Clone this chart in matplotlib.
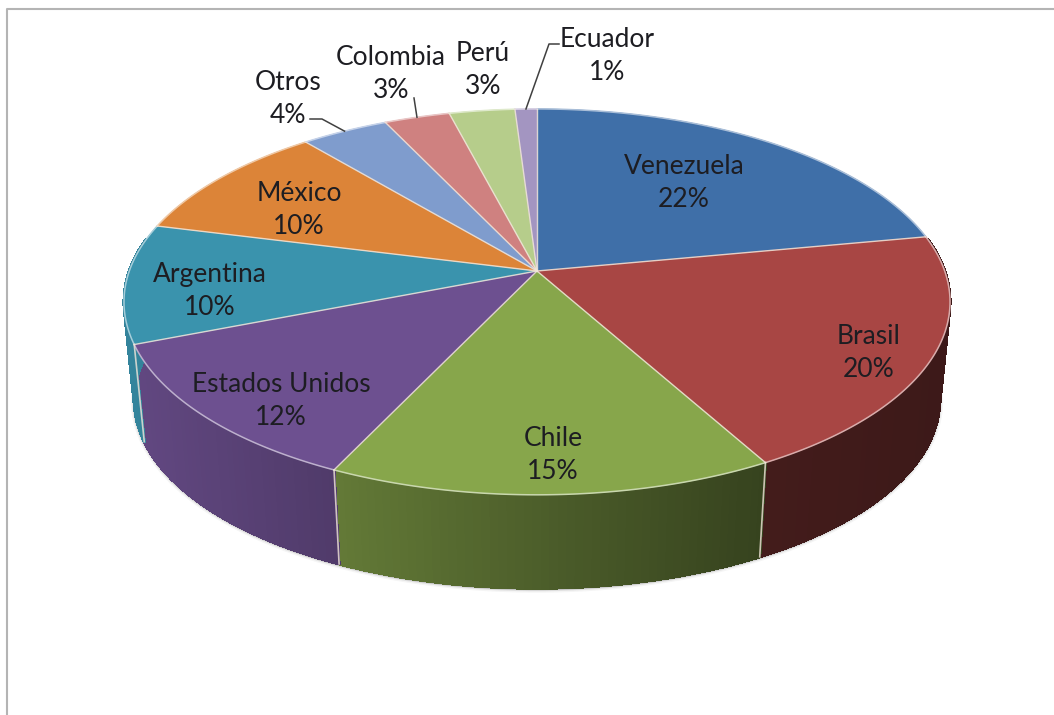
#!/usr/bin/env python3
"""Draw the country share pie as an extruded disc seen in perspective."""

import numpy as np
import matplotlib

matplotlib.use("Agg")
import matplotlib.pyplot as plt
from matplotlib.collections import PolyCollection
from matplotlib.patches import Polygon

countries = [
    "Venezuela",
    "Brasil",
    "Chile",
    "Estados Unidos",
    "Argentina",
    "México",
    "Otros",
    "Colombia",
    "Perú",
    "Ecuador",
]
shares = [22, 20, 15, 12, 10, 10, 4, 3, 3, 1]

colors = [
    "#3f6fa8",
    "#a84644",
    "#87a64b",
    "#6d5090",
    "#3a93ad",
    "#dc8438",
    "#7f9ccd",
    "#cf8180",
    "#b6cd8b",
    "#a395c1",
]

# label centres in pixels
label_pos = [
    (684, 183),
    (869, 353),
    (553, 455),
    (281, 401),
    (210, 291),
    (299, 210),
    (288, 99),
    (391, 74),
    (483, 70),
    (607, 56),
]

# where the leader line bends on its way from the rim to the label
leaders = {
    "Otros": [(322, 119), (310, 119)],
    "Colombia": [(414, 98)],
    "Ecuador": [(549, 44), (559, 44)],
}

# perspective of the top face
CX, CY = 537, 271
RX, RY = 407.7, 188
TILT = 0.16
# the lower face is a smaller copy further down
LOWER_CY = 370
LOWER_SCALE = 0.975

# side wall gets darker from left to right
SHADE_X = [125, 350, 560, 765, 950]
SHADE_F = [0.9, 0.72, 0.55, 0.4, 0.36]

SEPARATOR = "#f2e6da"
TEXT_COLOR = "#1d1d22"


def top_xy(angle):
    """Project clockwise-from-north angles (radians) on the top face."""
    u, v = np.sin(angle), np.cos(angle)
    w = 1 + TILT * v
    return CX + RX * u / w, CY - RY * v / w


def bottom_xy(angle):
    x, y = top_xy(angle)
    return CX + LOWER_SCALE * (x - CX), LOWER_CY + LOWER_SCALE * (y - CY)


def mix(color, other, t):
    a = np.array(matplotlib.colors.to_rgb(color))
    b = np.array(matplotlib.colors.to_rgb(other))
    return tuple(a + (b - a) * t)


def draw_sides(ax, edges):
    """Shaded wall of the disc, one thin quad per step along the rim."""
    first, last = np.radians(80), np.radians(280)
    for i, color in enumerate(colors):
        lo, hi = max(edges[i], first), min(edges[i + 1], last)
        if lo >= hi:
            continue
        steps = np.linspace(lo, hi, max(2, int(np.degrees(hi - lo))))
        quads, faces = [], []
        for a0, a1 in zip(steps[:-1], steps[1:]):
            tx, ty = top_xy(np.array([a0, a1]))
            bx, by = bottom_xy(np.array([a1, a0]))
            quads.append(list(zip(tx, ty)) + list(zip(bx, by)))
            shade = np.interp(tx.mean(), SHADE_X, SHADE_F)
            faces.append(tuple(np.array(matplotlib.colors.to_rgb(color)) * shade))
        ax.add_collection(
            PolyCollection(
                quads,
                facecolors=faces,
                edgecolors=faces,
                linewidths=1.5,
                antialiaseds=False,
                zorder=2,
            )
        )


def draw_shadow(ax):
    angle = np.radians(np.linspace(95, 265, 300))
    x, y = bottom_xy(angle)
    for width, alpha in [(5, 0.06), (3, 0.12), (1.5, 0.25)]:
        ax.plot(x, y + 1, color="#555555", lw=width, alpha=alpha, zorder=1)


def draw_top(ax, edges):
    for i, color in enumerate(colors):
        angle = np.linspace(edges[i], edges[i + 1], 120)
        x, y = top_xy(angle)
        pts = np.column_stack([np.r_[CX, x], np.r_[CY, y]])
        ax.add_patch(Polygon(pts, closed=True, facecolor=color, edgecolor=color, lw=0.4, zorder=3))
        # light outline along the rim
        ax.plot(x, y, color=mix(color, "#ffffff", 0.55), lw=1.1, zorder=4)

    # spokes between slices, and the wall seams where the wall is visible
    for edge in edges[:-1]:
        x, y = top_xy(edge)
        ax.plot([CX, x], [CY, y], color=SEPARATOR, lw=1.0, alpha=0.85, zorder=4)
        if np.radians(100) < edge < np.radians(260):
            bx, by = bottom_xy(edge)
            ax.plot([x, bx], [y, by], color=SEPARATOR, lw=1.2, alpha=0.8, zorder=4)


def main():
    fig = plt.figure(figsize=(10.54, 7.15), dpi=100, facecolor="white")
    ax = fig.add_axes([0, 0, 1, 1])
    ax.set_xlim(0, 1054)
    ax.set_ylim(715, 0)
    ax.axis("off")

    # chart frame, cut off by the right and bottom edges
    ax.plot([7, 7, 1054], [715, 9, 9], color="#b4b4b4", lw=1.5, zorder=1)

    edges = np.radians(np.r_[0, np.cumsum(shares)] * 3.6)

    draw_shadow(ax)
    draw_sides(ax, edges)
    draw_top(ax, edges)

    for i, name in enumerate(countries):
        ax.text(
            label_pos[i][0],
            label_pos[i][1],
            f"{name}\n{shares[i]}%",
            ha="center",
            va="center",
            family="Lato",
            fontsize=19,
            linespacing=1.42,
            color=TEXT_COLOR,
            zorder=6,
        )
        if name in leaders:
            mid = (edges[i] + edges[i + 1]) / 2
            x0, y0 = top_xy(mid)
            xs, ys = zip(*[(x0, y0)] + leaders[name])
            ax.plot(xs, ys, color="#404040", lw=1.1, zorder=5)

    fig.savefig("out.png", dpi=100)
    plt.close(fig)


if __name__ == "__main__":
    main()
